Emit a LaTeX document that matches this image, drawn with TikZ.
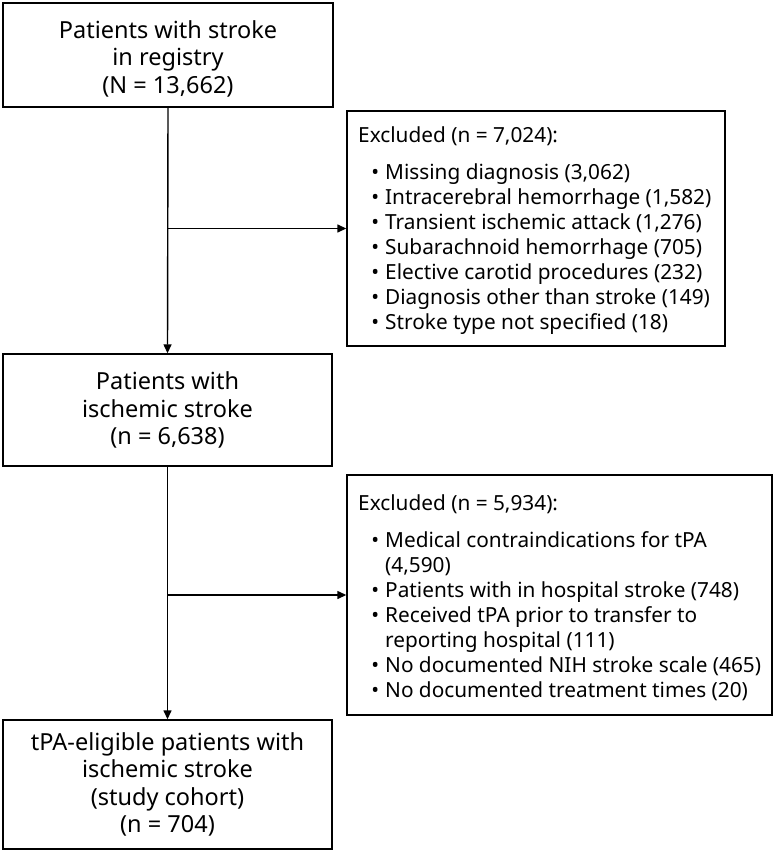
\documentclass[tikz,border=0pt]{standalone}
\usepackage{fontspec}
\setmainfont{Noto Sans}
\usetikzlibrary{arrows.meta}
\newcommand{\bul}{\makebox[27pt][r]{•\hspace{6pt}}}
\newcommand{\cont}{\makebox[27pt]{}}
\begin{document}
\begin{tikzpicture}[x=1pt,y=1pt,
  mainbox/.style={draw, line width=1.4pt, align=center, inner sep=0pt,
    font=\fontsize{23.5}{27.5}\selectfont},
  exbox/.style={draw, line width=1.4pt},
  extext/.style={anchor=north west, align=left, inner sep=0pt,
    font=\fontsize{20.8}{25}\selectfont},
  arr/.style={line width=1.4pt, -{Triangle[length=9pt,width=8pt]}}]
\useasboundingbox (0,0) rectangle (775,-853);
\node[mainbox, minimum width=330pt, minimum height=104pt] (b1) at (168,-55)
  {\\[-2pt]Patients with stroke\\in registry\\(N = 13,662)};
\node[mainbox, minimum width=329pt, minimum height=112pt] (b2) at (167.5,-410)
  {Patients with\\ischemic stroke\\(n = 6,638)};
\node[mainbox, minimum width=329pt, minimum height=129pt] (b3) at (167.5,-784.5)
  {tPA-eligible patients with\\ischemic stroke\\(study cohort)\\(n = 704)};
\node[exbox, minimum width=378pt, minimum height=235pt] (e1) at (536,-228.5) {};
\node[exbox, minimum width=425pt, minimum height=240pt] (e2) at (559.5,-595) {};
\node[extext] (t1) at (358,-126) {Excluded (n = 7,024):\\[12pt]
\bul Missing diagnosis (3,062)\\
\bul Intracerebral hemorrhage (1,582)\\
\bul Transient ischemic attack (1,276)\\
\bul Subarachnoid hemorrhage (705)\\
\bul Elective carotid procedures (232)\\
\bul Diagnosis other than stroke (149)\\
\bul Stroke type not specified (18)};
\node[extext] (t2) at (358,-494) {Excluded (n = 5,934):\\[12pt]
\bul Medical contraindications for tPA\\
\cont (4,590)\\
\bul Patients with in hospital stroke (748)\\
\bul Received tPA prior to transfer to\\
\cont reporting hospital (111)\\
\bul No documented NIH stroke scale (465)\\
\bul No documented treatment times (20)};
\coordinate (j1) at (b1.south |- e1.west);
\coordinate (j2) at (b2.south |- e2.west);
\draw[arr] (b1.south) -- (b2.north);
\draw[arr] (b2.south) -- (b3.north);
\draw[arr] (j1) -- (e1.west);
\draw[arr] (j2) -- (e2.west);
\end{tikzpicture}
\end{document}
